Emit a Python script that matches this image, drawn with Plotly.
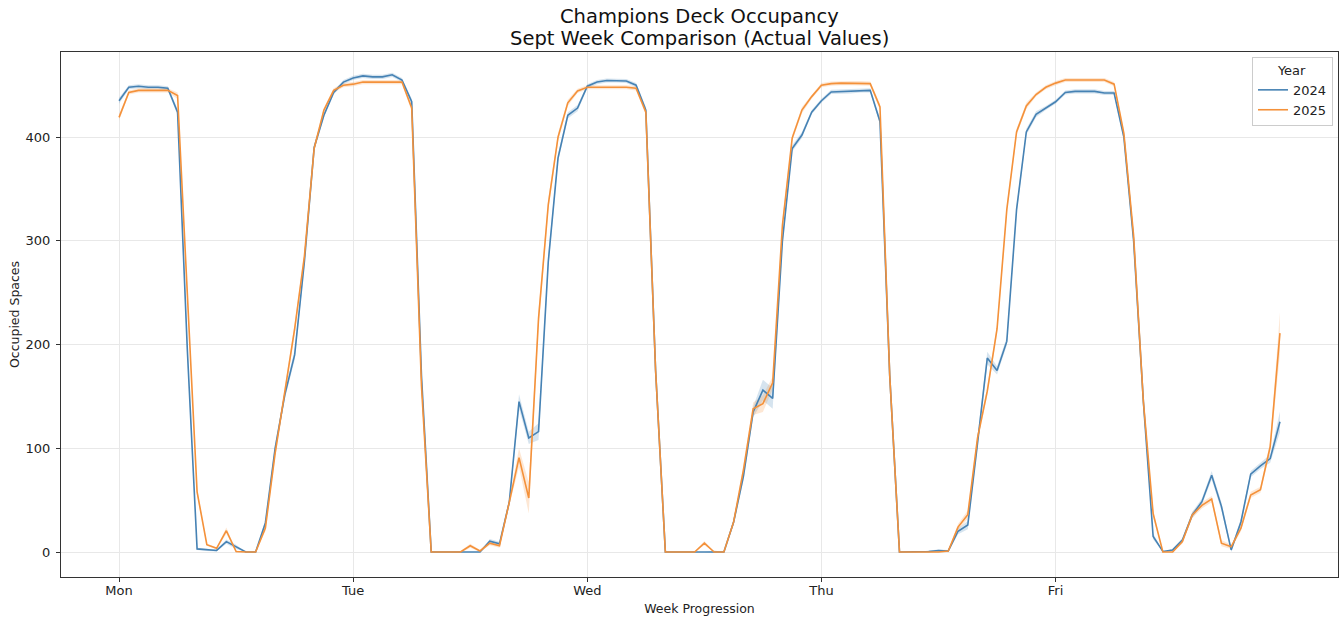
import plotly.graph_objects as go

DAY_LABELS = ["Mon", "Tue", "Wed", "Thu", "Fri"]
DAY_TICKS = [0, 24, 48, 72, 96]
YEARS = ["2024", "2025"]
TITLE_LINES = ["Champions Deck Occupancy", "Sept Week Comparison (Actual Values)"]

OCC_2024 = [
    435, 448, 449, 448, 448, 447, 424, 195, 3, 2,
    1.5, 10, 5, 0, 0, 28, 100, 152, 190, 280,
    390, 421, 443, 453, 457, 459, 458, 458, 460, 455,
    434, 170, 0, 0, 0, 0, 0, 0, 10.5, 8,
    48, 145, 110, 116, 280, 380, 421, 428, 449, 453,
    454.5, 454.5, 454, 450, 426, 175, 0, 0, 0, 0,
    0, 0.5, 0, 29, 73, 135, 156, 148, 300, 389,
    402, 424, 435, 443.5, 444, 444, 445, 445, 415, 170,
    0, 0, 0, 0.5, 1.5, 1, 20, 26, 105, 187,
    175, 203, 330, 405, 422, 428, 434, 443, 444, 444,
    444, 442.5, 442.5, 400, 300, 145, 15, 0.5, 2, 11.5,
    35.5, 48.5, 74, 44, 2, 29, 75, 83, 90, 125.5,
]

OCC_2025 = [
    419, 443, 445, 445, 445, 445, 440, 250, 58, 7,
    3.5, 20.5, 0.5, 0, 0, 23, 95, 155, 215, 285,
    389, 426, 445, 450, 451, 453, 453, 453, 453, 453,
    428, 160, 0, 0, 0, 0, 6, 1, 8.5, 6,
    48, 91, 52, 225, 335, 400, 433, 444.5, 448, 448,
    448, 448, 448, 447, 424, 175, 0, 0, 0, 0,
    8.5, 0, 0, 29, 79, 138, 143, 163, 315, 399,
    426, 439, 450, 451.5, 452, 452, 452, 451.5, 429, 170,
    0, 0, 0, 0, 0, 1, 24, 36, 110, 155,
    215, 330, 405, 430, 441, 448, 452, 455, 455, 455,
    455, 455, 451, 403.5, 305, 145, 37, 0, 0, 10,
    35.5, 45, 51, 8.5, 5, 23, 55, 60, 101.5, 211,
]

# half-width of the confidence band around each hourly mean
CI_2024 = [
    3, 2, 2, 2, 2, 2, 3, 6, 1, 1,
    1, 2, 2, 0, 0, 3, 4, 4, 5, 4,
    3, 2, 2, 2, 2, 2, 2, 2, 2, 2,
    3, 5, 0, 0, 0, 0, 0, 0, 2, 2,
    3, 7, 6, 8, 6, 4, 3, 3, 2, 2,
    2, 2, 2, 2, 3, 5, 0, 0, 0, 0,
    0, 1, 0, 3, 4, 5, 10, 10, 5, 3,
    3, 2, 2, 2, 2, 2, 2, 2, 3, 5,
    0, 0, 0, 1, 1, 1, 3, 4, 4, 6,
    4, 4, 4, 3, 3, 2, 2, 2, 2, 2,
    2, 2, 2, 3, 5, 5, 3, 0, 1, 2,
    3, 3, 4, 4, 2, 3, 3, 3, 4, 10,
]

CI_2025 = [
    3, 2, 2, 2, 2, 2, 3, 6, 3, 1,
    1, 3, 1, 0, 0, 3, 4, 4, 5, 4,
    3, 2, 2, 2, 2, 2, 2, 2, 2, 2,
    3, 5, 0, 0, 0, 1, 2, 1, 2, 2,
    3, 9, 15, 8, 6, 4, 3, 2, 2, 2,
    2, 2, 2, 2, 3, 5, 0, 0, 0, 0,
    2, 0, 0, 3, 4, 6, 8, 6, 5, 3,
    3, 2, 2, 2, 2, 2, 2, 2, 3, 5,
    0, 0, 0, 0, 0, 1, 3, 4, 4, 4,
    4, 4, 3, 3, 2, 2, 2, 2, 2, 2,
    2, 2, 2, 3, 5, 5, 4, 0, 0, 2,
    3, 3, 3, 3, 2, 3, 3, 3, 5, 20,
]

HOURS = list(range(len(OCC_2024)))

COLORS = {"2024": "#4682B4", "2025": "#F4913A"}
BANDS = {"2024": "rgba(70,130,180,0.22)", "2025": "rgba(244,145,58,0.22)"}

series = {"2024": (OCC_2024, CI_2024), "2025": (OCC_2025, CI_2025)}

FONT = "DejaVu Sans"
W, H = 1341, 620
ML, MR, MT, MB = 61, 3, 52, 43
PLOT_H = H - MT - MB

fig = go.Figure()
for yr in YEARS:
    vals, ci = series[yr]
    upper = [v + c for v, c in zip(vals, ci)]
    lower = [v - c for v, c in zip(vals, ci)]
    fig.add_trace(go.Scatter(
        x=HOURS + HOURS[::-1], y=upper + lower[::-1],
        fill="toself", fillcolor=BANDS[yr], line=dict(width=0),
        mode="lines", showlegend=False, hoverinfo="skip",
    ))
for yr in YEARS:
    vals, _ = series[yr]
    fig.add_trace(go.Scatter(
        x=HOURS, y=vals, mode="lines", name=yr,
        line=dict(color=COLORS[yr], width=1.6),
    ))

axis_common = dict(
    showline=True, linecolor="#333333", linewidth=1, mirror=True,
    ticks="outside", ticklen=4, tickcolor="#333333", tickwidth=1,
    showgrid=True, gridcolor="#e8e8e8", gridwidth=1, zeroline=False,
    automargin=False,
    tickfont=dict(family=FONT, size=13, color="#222222"),
)

# title lines as two annotations, centred over the plot area
title_centres_px = [16.5, 38]
for txt, cy in zip(TITLE_LINES, title_centres_px):
    fig.add_annotation(
        text=txt, xref="paper", yref="paper",
        x=0.5, y=(H - MB - cy) / PLOT_H, xanchor="center", yanchor="middle",
        showarrow=False, font=dict(family=FONT, size=19.5, color="#111111"),
    )

fig.update_layout(
    width=W, height=H,
    paper_bgcolor="white", plot_bgcolor="white",
    margin=dict(l=ML, r=MR, t=MT, b=MB, autoexpand=False),
    xaxis=dict(
        range=[-5.95, 124.95], tickvals=DAY_TICKS, ticktext=DAY_LABELS,
        ticklabelstandoff=-3,
        title=dict(text="Week Progression", standoff=7,
                   font=dict(family=FONT, size=12.5, color="#222222")),
        **axis_common,
    ),
    yaxis=dict(
        range=[-24.1, 482], tickvals=[0, 100, 200, 300, 400],
        ticklabelstandoff=3,
        title=dict(text="Occupied Spaces", standoff=3,
                   font=dict(family=FONT, size=12.5, color="#222222")),
        **axis_common,
    ),
    legend=dict(
        title=dict(text="Year", side="top center",
                   font=dict(family=FONT, size=13, color="#222222")),
        x=1 - 5 / (W - ML - MR), xanchor="right",
        y=1 - 5 / PLOT_H, yanchor="top",
        tracegroupgap=0,
        bgcolor="rgba(255,255,255,0.85)", bordercolor="#cccccc", borderwidth=1,
        font=dict(family=FONT, size=13, color="#222222"),
    ),
    showlegend=True,
)

fig.write_html(
    "out.html",
    config={"displayModeBar": False},
    post_script="document.body.style.margin='0';document.body.style.padding='0';",
)
